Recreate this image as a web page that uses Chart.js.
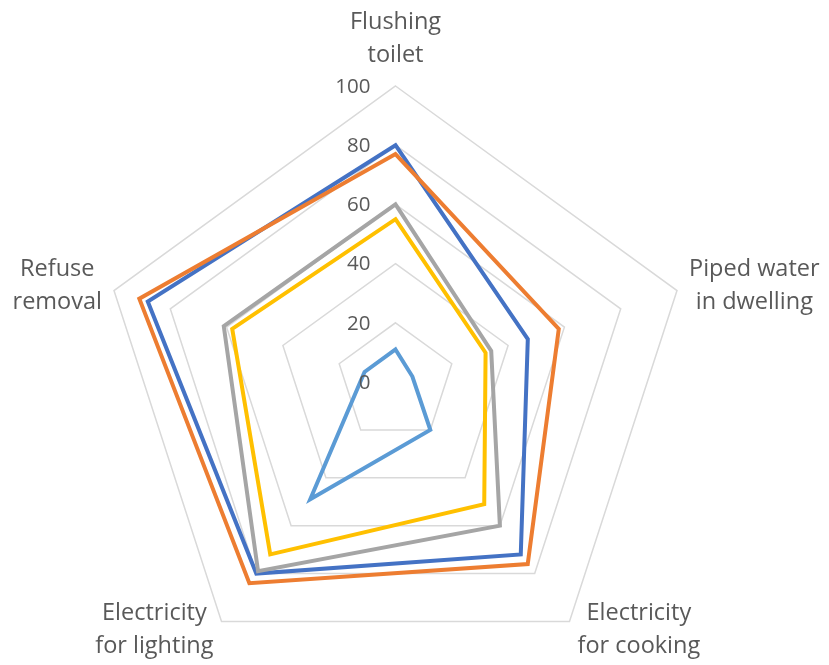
<!DOCTYPE html>
<html>
<head>
<meta charset="utf-8">
<script src="https://cdn.jsdelivr.net/npm/chart.js@4/dist/chart.umd.min.js"></script>
<style>
  html, body { margin: 0; padding: 0; background: #fff; }
  #wrap { width: 829px; height: 665px; }
</style>
</head>
<body>
<div id="wrap"><canvas id="radarChart" width="829" height="665"></canvas></div>
<script>
var categories = [
    ['Flushing', 'toilet'],
    ['Piped water', 'in dwelling'],
    ['Electricity', 'for cooking'],
    ['Electricity', 'for lighting'],
    ['Refuse', 'removal']
];
var tickValues = [0, 20, 40, 60, 80, 100];

var series1 = [80, 47, 72, 80, 88];
var series2 = [77, 58, 76, 84, 91];
var series3 = [60, 34, 60, 79, 61];
var series4 = [55, 32, 51, 72, 58];
var series5 = [11, 6, 20, 49, 11];

var textColor = '#595959';
var fontFamily = '"Open Sans", "Liberation Sans", sans-serif';

// how each axis title sits against its outer vertex: h = horizontal anchor, dx/dy = shift
var labelPlacement = [
    { h: 'center', dx: 0, dy: -47 },
    { h: 'left', dx: 12, dy: -5 },
    { h: 'left', dx: 8, dy: 8 },
    { h: 'right', dx: -8, dy: 8 },
    { h: 'right', dx: -12, dy: -5 }
];

var radarLayout = {
    id: 'radarLayout',
    afterLayout: function (chart) {
        var r = chart.scales.r;
        r.xCenter = 395.5;
        r.yCenter = 382;
        r.drawingArea = 296;
    },
    afterDraw: function (chart) {
        var r = chart.scales.r;
        var ctx = chart.ctx;
        ctx.save();
        ctx.fillStyle = textColor;

        // value labels, to the left of the top spoke
        ctx.font = '20.5px ' + fontFamily;
        ctx.textAlign = 'right';
        ctx.textBaseline = 'middle';
        tickValues.forEach(function (v) {
            var y = r.yCenter - r.getDistanceFromCenterForValue(v);
            ctx.fillText(String(v), r.xCenter - 25, y + 1);
        });

        // axis titles
        ctx.font = '23.5px ' + fontFamily;
        ctx.textAlign = 'center';
        var lineH = 33;
        categories.forEach(function (lines, i) {
            var p = r.getPointPosition(i, r.drawingArea);
            var place = labelPlacement[i];
            var w = Math.max.apply(null, lines.map(function (s) { return ctx.measureText(s).width; }));
            var cx = p.x + place.dx;
            if (place.h === 'left') cx += w / 2;
            if (place.h === 'right') cx -= w / 2;
            var cy = p.y + place.dy;
            lines.forEach(function (s, k) {
                ctx.fillText(s, cx, cy + (k - (lines.length - 1) / 2) * lineH);
            });
        });
        ctx.restore();
    }
};

function line(label, data, color, order) {
    return {
        label: label,
        data: data,
        borderColor: color,
        backgroundColor: color,
        borderWidth: 4,
        borderJoinStyle: 'miter',
        fill: false,
        pointRadius: 0,
        pointHoverRadius: 0,
        tension: 0,
        order: order
    };
}

var ctx = document.getElementById('radarChart').getContext('2d');
var radarChart = new Chart(ctx, {
    type: 'radar',
    data: {
        labels: categories,
        datasets: [
            line('Series 1', series1, '#4472C4', 5),
            line('Series 2', series2, '#ED7D31', 4),
            line('Series 3', series3, '#A5A5A5', 3),
            line('Series 4', series4, '#FFC000', 2),
            line('Series 5', series5, '#5B9BD5', 1)
        ]
    },
    options: {
        responsive: false,
        animation: false,
        plugins: {
            legend: { display: false },
            tooltip: { enabled: false }
        },
        scales: {
            r: {
                min: 0,
                max: 100,
                ticks: { stepSize: 20, display: false },
                grid: { color: '#D9D9D9', lineWidth: 1.5, circular: false },
                angleLines: { display: false },
                pointLabels: { display: false }
            }
        }
    },
    plugins: [radarLayout]
});
</script>
</body>
</html>
